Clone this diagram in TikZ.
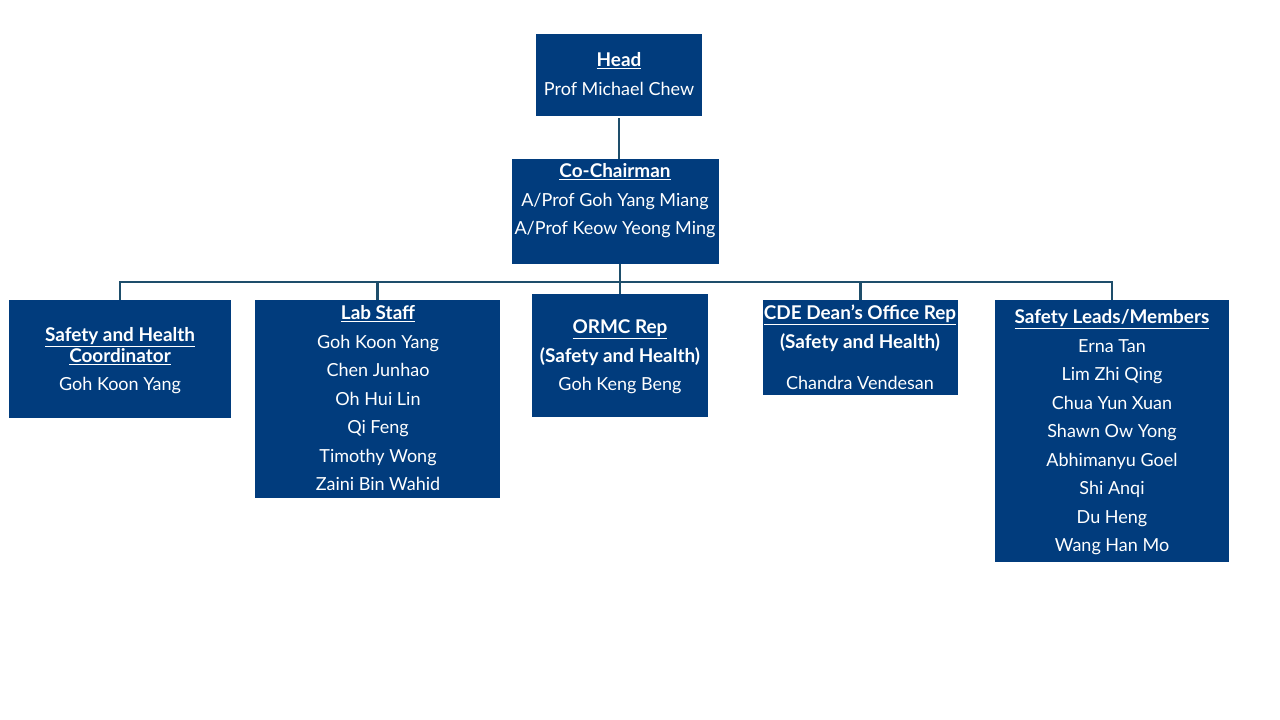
\documentclass[tikz,border=0pt]{standalone}
\usepackage{fontspec}
\setmainfont{Lato}
\usetikzlibrary{fit}
\definecolor{boxblue}{RGB}{1,60,125}
\definecolor{linecol}{RGB}{30,78,107}
\begin{document}
\begin{tikzpicture}[x=0.75pt,y=-0.75pt,
  box/.style={fill=boxblue, draw=none, inner sep=0pt, rectangle},
  t/.style={text=white, font=\fontsize{13.5}{15}\selectfont, inner sep=0pt, anchor=center, text height=9.5pt, text depth=2.5pt, yshift=-1.8pt},
  tb/.style={text=white, font=\fontsize{14.2}{16}\selectfont\bfseries, inner sep=0pt, anchor=center, text height=9.5pt, text depth=2.5pt, yshift=-1.8pt},
  link/.style={draw=linecol, line width=1.8pt}]
\useasboundingbox (0,0) rectangle (1280,720);
\fill[white] (0,0) rectangle (1280,720);
% boxes
\node[box, fit={(536,34) (702,116)}] (head) {};
\node[box, fit={(512,159) (719,264)}] (cochair) {};
\node[box, fit={(9,300) (231,418)}] (shc) {};
\node[box, fit={(255,300) (500,498)}] (lab) {};
\node[box, fit={(532,294) (708,417)}] (ormc) {};
\node[box, fit={(763,300) (958,395)}] (cde) {};
\node[box, fit={(995,300) (1229,562)}] (leads) {};
% connectors
\coordinate (bus) at (620,282);
\draw[link, line width=2.2pt] ([yshift=-1.5pt]head.south) -- (head.south |- cochair.north);
\draw[link] (ormc.north |- cochair.south) -- (ormc.north);
\draw[link] (shc.north) -- (shc.north |- bus) -- (leads.north |- bus) -- (leads.north);
\draw[link] (lab.north) -- (lab.north |- bus);
\draw[link] (cde.north) -- (cde.north |- bus);
% texts
\node[tb] (h1) at (619,59) {\underline{Head}};
\node[t] (h2) at (619,88) {Prof Michael Chew};
\node[tb] (c1) at (615,170) {\underline{Co-Chairman}};
\node[t] (c2) at (615,199) {A/Prof Goh Yang Miang};
\node[t] (c3) at (615,227) {A/Prof Keow Yeong Ming};
\node[tb] (s1) at (120,334) {\underline{Safety and Health}};
\node[tb] (s2) at (120,355) {\underline{Coordinator}};
\node[t] (s3) at (120,383) {Goh Koon Yang};
\node[tb] (l1) at (378,312) {\underline{Lab Staff}};
\node[t] (l2) at (378,341) {Goh Koon Yang};
\node[t] (l3) at (378,369) {Chen Junhao};
\node[t] (l4) at (378,398) {Oh Hui Lin};
\node[t] (l5) at (378,426) {Qi Feng};
\node[t] (l6) at (378,455) {Timothy Wong};
\node[t] (l7) at (378,483) {Zaini Bin Wahid};
\node[tb] (o1) at (620,326) {\underline{ORMC Rep}};
\node[tb] (o2) at (620,355) {(Safety and Health)};
\node[t] (o3) at (620,383) {Goh Keng Beng};
\node[tb] (d1) at (860,312) {\underline{CDE Dean’s Office Rep}};
\node[tb] (d2) at (860,341) {(Safety and Health)};
\node[t] (d3) at (860,382) {Chandra Vendesan};
\node[tb] (m1) at (1112,316) {\underline{Safety Leads/Members}};
\node[t] (m2) at (1112,345) {Erna Tan};
\node[t] (m3) at (1112,373) {Lim Zhi Qing};
\node[t] (m4) at (1112,402) {Chua Yun Xuan};
\node[t] (m5) at (1112,430) {Shawn Ow Yong};
\node[t] (m6) at (1112,459) {Abhimanyu Goel};
\node[t] (m7) at (1112,487) {Shi Anqi};
\node[t] (m8) at (1112,516) {Du Heng};
\node[t] (m9) at (1112,544) {Wang Han Mo};
\end{tikzpicture}
\end{document}
